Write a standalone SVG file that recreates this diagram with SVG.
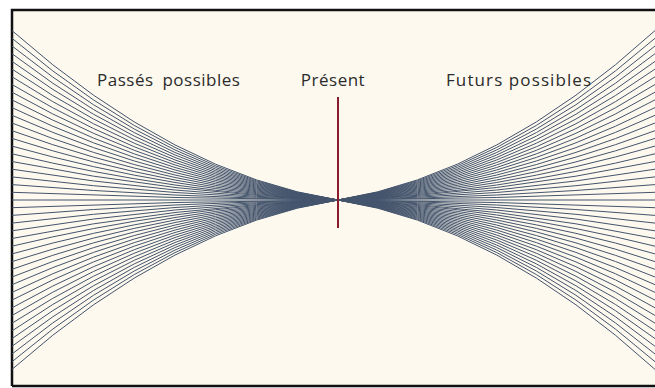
<svg xmlns="http://www.w3.org/2000/svg" width="655" height="388" viewBox="0 0 655 388">
<style>
.fan path{fill:none;stroke:#44546c;stroke-width:1}
.lbl{font-family:"Open Sans","Liberation Sans",sans-serif;font-size:17px;letter-spacing:0.5px;fill:#2b2b2b}
.wide{letter-spacing:1.1px}
</style>
<rect width="655" height="388" fill="#ffffff"/>
<rect x="12" y="10" width="645" height="376" fill="#fdf9ef"/>
<path d="M12 386V10H655M12 386H655" fill="none" stroke="#111" stroke-width="2.5"/>
<g id="connectors" class="fan">
<g id="passes">
<path d="M12 30.6Q175 174.6 338 200"/>
<path d="M12 38.3Q175 175.7 338 200"/>
<path d="M12 46Q175 176.9 338 200"/>
<path d="M12 53.7Q175 178.1 338 200"/>
<path d="M12 61.4Q175 179.2 338 200"/>
<path d="M12 69.1Q175 180.4 338 200"/>
<path d="M12 76.8Q175 181.5 338 200"/>
<path d="M12 84.5Q175 182.7 338 200"/>
<path d="M12 92.2Q175 183.8 338 200"/>
<path d="M12 99.9Q175 185 338 200"/>
<path d="M12 107.6Q175 186.1 338 200"/>
<path d="M12 115.3Q175 187.3 338 200"/>
<path d="M12 123Q175 188.5 338 200"/>
<path d="M12 130.7Q175 189.6 338 200"/>
<path d="M12 138.4Q175 190.8 338 200"/>
<path d="M12 146.1Q175 191.9 338 200"/>
<path d="M12 153.8Q175 193.1 338 200"/>
<path d="M12 161.5Q175 194.2 338 200"/>
<path d="M12 169.2Q175 195.4 338 200"/>
<path d="M12 176.9Q175 196.5 338 200"/>
<path d="M12 184.6Q175 197.7 338 200"/>
<path d="M12 192.3Q175 198.8 338 200"/>
<path d="M12 200H338"/>
<path d="M12 207.7Q175 201.2 338 200"/>
<path d="M12 215.4Q175 202.3 338 200"/>
<path d="M12 223.1Q175 203.5 338 200"/>
<path d="M12 230.8Q175 204.6 338 200"/>
<path d="M12 238.5Q175 205.8 338 200"/>
<path d="M12 246.2Q175 206.9 338 200"/>
<path d="M12 253.9Q175 208.1 338 200"/>
<path d="M12 261.6Q175 209.2 338 200"/>
<path d="M12 269.3Q175 210.4 338 200"/>
<path d="M12 277Q175 211.6 338 200"/>
<path d="M12 284.7Q175 212.7 338 200"/>
<path d="M12 292.4Q175 213.9 338 200"/>
<path d="M12 300.1Q175 215 338 200"/>
<path d="M12 307.8Q175 216.2 338 200"/>
<path d="M12 315.5Q175 217.3 338 200"/>
<path d="M12 323.2Q175 218.5 338 200"/>
<path d="M12 330.9Q175 219.6 338 200"/>
<path d="M12 338.6Q175 220.8 338 200"/>
<path d="M12 346.3Q175 221.9 338 200"/>
<path d="M12 354Q175 223.1 338 200"/>
<path d="M12 361.7Q175 224.3 338 200"/>
<path d="M12 369.4Q175 225.4 338 200"/>
</g>
<g id="futurs">
<path d="M655 30.6Q497 174.6 338 200"/>
<path d="M655 38.3Q497 175.7 338 200"/>
<path d="M655 46Q497 176.9 338 200"/>
<path d="M655 53.7Q497 178.1 338 200"/>
<path d="M655 61.4Q497 179.2 338 200"/>
<path d="M655 69.1Q497 180.4 338 200"/>
<path d="M655 76.8Q497 181.5 338 200"/>
<path d="M655 84.5Q497 182.7 338 200"/>
<path d="M655 92.2Q497 183.8 338 200"/>
<path d="M655 99.9Q497 185 338 200"/>
<path d="M655 107.6Q497 186.1 338 200"/>
<path d="M655 115.3Q497 187.3 338 200"/>
<path d="M655 123Q497 188.5 338 200"/>
<path d="M655 130.7Q497 189.6 338 200"/>
<path d="M655 138.4Q497 190.8 338 200"/>
<path d="M655 146.1Q497 191.9 338 200"/>
<path d="M655 153.8Q497 193.1 338 200"/>
<path d="M655 161.5Q497 194.2 338 200"/>
<path d="M655 169.2Q497 195.4 338 200"/>
<path d="M655 176.9Q497 196.5 338 200"/>
<path d="M655 184.6Q497 197.7 338 200"/>
<path d="M655 192.3Q497 198.8 338 200"/>
<path d="M655 200H338"/>
<path d="M655 207.7Q497 201.2 338 200"/>
<path d="M655 215.4Q497 202.3 338 200"/>
<path d="M655 223.1Q497 203.5 338 200"/>
<path d="M655 230.8Q497 204.6 338 200"/>
<path d="M655 238.5Q497 205.8 338 200"/>
<path d="M655 246.2Q497 206.9 338 200"/>
<path d="M655 253.9Q497 208.1 338 200"/>
<path d="M655 261.6Q497 209.2 338 200"/>
<path d="M655 269.3Q497 210.4 338 200"/>
<path d="M655 277Q497 211.6 338 200"/>
<path d="M655 284.7Q497 212.7 338 200"/>
<path d="M655 292.4Q497 213.9 338 200"/>
<path d="M655 300.1Q497 215 338 200"/>
<path d="M655 307.8Q497 216.2 338 200"/>
<path d="M655 315.5Q497 217.3 338 200"/>
<path d="M655 323.2Q497 218.5 338 200"/>
<path d="M655 330.9Q497 219.6 338 200"/>
<path d="M655 338.6Q497 220.8 338 200"/>
<path d="M655 346.3Q497 221.9 338 200"/>
<path d="M655 354Q497 223.1 338 200"/>
<path d="M655 361.7Q497 224.3 338 200"/>
<path d="M655 369.4Q497 225.4 338 200"/>
</g>
</g>
<g id="present">
<line x1="338" y1="97" x2="338" y2="228" stroke="#8a1c2c" stroke-width="2"/>
<text class="lbl" x="333" y="86" text-anchor="middle">Présent</text>
</g>
<g id="label-passes"><text class="lbl" x="97" y="86" word-spacing="4">Passés possibles</text></g>
<g id="label-futurs"><text class="lbl wide" x="446" y="86">Futurs possibles</text></g>
</svg>
